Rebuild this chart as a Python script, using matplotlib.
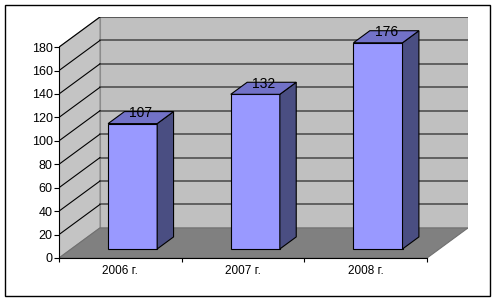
import matplotlib.pyplot as plt
from matplotlib.patches import Polygon, Rectangle

# data
years = ["2006 г.", "2007 г.", "2008 г."]
values = [107, 132, 176]
yticks = list(range(0, 181, 20))

# fake 3d settings (Excel style oblique projection)
ymax = 180
ddx = 0.334      # depth shift in category units
ddy = 25.7       # depth shift in value units
bar_w = 0.4
d0, d1 = 0.3, 0.7  # bar depth range as fraction of the depth

plt.rcParams['font.family'] = ['Liberation Sans', 'DejaVu Sans']

fig = plt.figure(figsize=(5, 3), dpi=100)
# axes placed so that front plane 0..180 sits at the right pixels
ax = fig.add_axes([59 / 500, 42 / 300, 409 / 500, 241 / 300])
ax.set_xlim(0, 3 + ddx)
ax.set_ylim(0, ymax + ddy)

n = len(values)

# walls and floor
ax.add_patch(Rectangle((ddx, ddy), n, ymax, facecolor='#c0c0c0',
                       edgecolor='#8c8c8c', lw=0.8, zorder=1))
ax.add_patch(Polygon([(0, 0), (ddx, ddy), (ddx, ymax + ddy), (0, ymax)],
                     closed=True, facecolor='#c4c4c4', edgecolor='#8c8c8c',
                     lw=0.8, zorder=1))
ax.add_patch(Polygon([(0, 0), (n, 0), (n + ddx, ddy), (ddx, ddy)],
                     closed=True, facecolor='#808080', edgecolor='#707070',
                     lw=0.8, zorder=1))

# gridlines
for v in yticks[1:]:
    ax.plot([ddx, n + ddx], [v + ddy, v + ddy], color='#505050', lw=1.2, zorder=2)
    ax.plot([0, ddx], [v, v + ddy], color='black', lw=0.8, zorder=2)

# bars
for i, v in enumerate(values):
    x0 = i + 0.5 - bar_w / 2
    fx, fy = x0 + d0 * ddx, d0 * ddy
    bx, by = x0 + d1 * ddx, d1 * ddy
    front = Rectangle((fx, fy), bar_w, v, facecolor='#9999ff',
                      edgecolor='black', lw=0.8, zorder=3)
    side = Polygon([(fx + bar_w, fy), (bx + bar_w, by), (bx + bar_w, by + v),
                    (fx + bar_w, fy + v)], closed=True, facecolor='#4a4e82',
                   edgecolor='black', lw=0.8, zorder=3)
    top = Polygon([(fx, fy + v), (fx + bar_w, fy + v), (bx + bar_w, by + v),
                   (bx, by + v)], closed=True, facecolor='#7272c8',
                  edgecolor='black', lw=0.8, zorder=3)
    for p in (front, side, top):
        ax.add_patch(p)
    ax.text(i + 0.5 + 0.5 * ddx, v + 0.5 * ddy + 4, str(v), ha='center',
            va='center', fontsize=10, zorder=4)

# axes
for s in ('top', 'right'):
    ax.spines[s].set_visible(False)
ax.spines['left'].set_bounds(0, ymax)
ax.spines['bottom'].set_bounds(0, n)
ax.spines['left'].set_linewidth(0.8)
ax.spines['bottom'].set_linewidth(0.8)
ax.spines['left'].set_zorder(5)
ax.spines['bottom'].set_zorder(5)
ax.set_yticks(yticks)
ax.set_yticklabels([str(t) for t in yticks])
ax.tick_params(axis='y', length=3.5, width=0.8, pad=1, labelsize=9)
ax.set_xticks(range(n + 1))
ax.set_xticklabels([])
ax.set_xticks([i + 0.5 for i in range(n)], minor=True)
ax.set_xticklabels(years, minor=True)
ax.tick_params(axis='x', which='major', length=3, width=0.8)
ax.tick_params(axis='x', which='minor', length=0, pad=5, labelsize=8.5)

# outer chart border
fig.patches.append(Rectangle((5 / 500, 4 / 300), 485 / 500, 291 / 300,
                             transform=fig.transFigure, fill=False,
                             edgecolor='black', lw=1))

fig.savefig('out.png', dpi=100)
